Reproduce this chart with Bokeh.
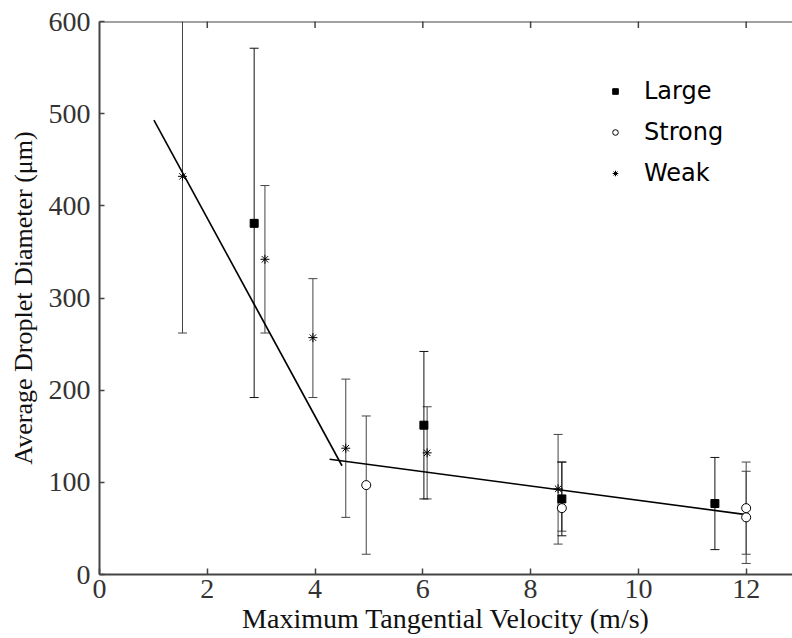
import math
from bokeh.plotting import figure
from bokeh.models import (Range1d, FixedTicker, Whisker, TeeHead, Span,
                          ColumnDataSource, Legend, LegendItem)
from bokeh.embed import file_html
from bokeh.resources import INLINE

# ---- data ----
large_x = [2.87, 6.02, 8.58, 11.42]
large_y = [381, 162, 82, 77]
large_lo = [192, 82, 42, 27]
large_hi = [571, 242, 122, 127]

strong_x = [4.95, 8.58, 12.0, 12.0]
strong_y = [97, 72, 72, 62]
strong_lo = [22, 47, 22, 12]
strong_hi = [172, 122, 122, 112]

weak_x = [1.54, 3.07, 3.96, 4.57, 6.08, 8.51]
weak_y = [432, 342, 257, 137, 132, 93]
weak_lo = [262, 262, 192, 62, 82, 33]
weak_hi = [640, 422, 321, 212, 182, 152]

fit1_x = [1.01, 4.50]
fit1_y = [493, 118]
fit2_x = [4.27, 12.0]
fit2_y = [125, 65]

x_ticks = [0, 2, 4, 6, 8, 10, 12]
y_ticks = [0, 100, 200, 300, 400, 500, 600]
y_max = 600

SERIF = "Liberation Serif"
AXC = "#444444"

p = figure(width=792, height=638, output_backend="svg", toolbar_location=None,
           x_range=Range1d(0, 12.86), y_range=Range1d(0, y_max),
           min_border_left=99, min_border_right=0, min_border_top=21,
           min_border_bottom=64, background_fill_color="white",
           border_fill_color="white")
p.outline_line_color = None
p.grid.visible = False

for ax in (p.xaxis[0], p.yaxis[0]):
    ax.axis_line_color = AXC
    ax.axis_line_width = 2
    ax.major_tick_line_color = AXC
    ax.major_tick_line_width = 1.5
    ax.major_tick_out = 0
    ax.minor_tick_line_color = None
    ax.major_label_text_font = SERIF
    ax.major_label_text_font_size = "28px"
    ax.major_label_text_color = "#333333"
    ax.axis_label_text_font = SERIF
    ax.axis_label_text_font_style = "normal"
    ax.axis_label_text_color = "#111111"

p.xaxis[0].ticker = FixedTicker(ticks=x_ticks)
p.yaxis[0].ticker = FixedTicker(ticks=y_ticks)
p.xaxis[0].major_tick_in = 6
p.yaxis[0].major_tick_in = 5
p.xaxis[0].axis_label = "Maximum Tangential Velocity (m/s)"
p.yaxis[0].axis_label = "Average Droplet Diameter (\u03bcm)"
p.xaxis[0].axis_label_text_font_size = "28px"
p.yaxis[0].axis_label_text_font_size = "26px"
p.xaxis[0].major_label_standoff = 5
p.xaxis[0].axis_label_standoff = 2
p.yaxis[0].major_label_standoff = 9
p.yaxis[0].axis_label_standoff = 8

# top frame line with inward ticks
p.add_layout(Span(location=y_max, dimension="width", line_color=AXC, line_width=2))
p.scatter(x_ticks[1:], [y_max] * (len(x_ticks) - 1), marker="dash", angle=math.pi / 2,
          size=13, line_color=AXC, line_width=1.5)

# fit lines
p.line(fit1_x, fit1_y, line_color="black", line_width=1.6)
p.line(fit2_x, fit2_y, line_color="black", line_width=1.6)

def errbars(xs, lo, hi, color):
    src = ColumnDataSource(dict(x=xs, lo=lo, hi=hi))
    w = Whisker(source=src, base="x", lower="lo", upper="hi", dimension="height",
                line_color=color, line_width=1,
                upper_head=TeeHead(size=9, line_color=color, line_width=1),
                lower_head=TeeHead(size=9, line_color=color, line_width=1))
    p.add_layout(w)

errbars(weak_x, weak_lo, weak_hi, "#444444")
errbars(strong_x, strong_lo, strong_hi, "#444444")
errbars(large_x, large_lo, large_hi, "#111111")

r_large = p.scatter(large_x, large_y, marker="square", size=8,
                    fill_color="black", line_color="black")
r_strong = p.scatter(strong_x, strong_y, marker="circle", size=9,
                     fill_color="white", line_color="black", line_width=1)
r_weak = p.scatter(weak_x, weak_y, marker="asterisk", size=9,
                   line_color="black", line_width=1)

legend = Legend(items=[LegendItem(label="Large", renderers=[r_large]),
                       LegendItem(label="Strong", renderers=[r_strong]),
                       LegendItem(label="Weak", renderers=[r_weak])],
                location=(509, 387), orientation="vertical",
                label_text_font="DejaVu Sans", label_text_font_size="24px",
                label_text_color="black",
                glyph_width=14, glyph_height=20, label_standoff=22,
                spacing=13, padding=0, margin=0,
                border_line_alpha=0, background_fill_alpha=0)
p.add_layout(legend, "center")

open("out.html", "w").write(file_html(p, INLINE))
